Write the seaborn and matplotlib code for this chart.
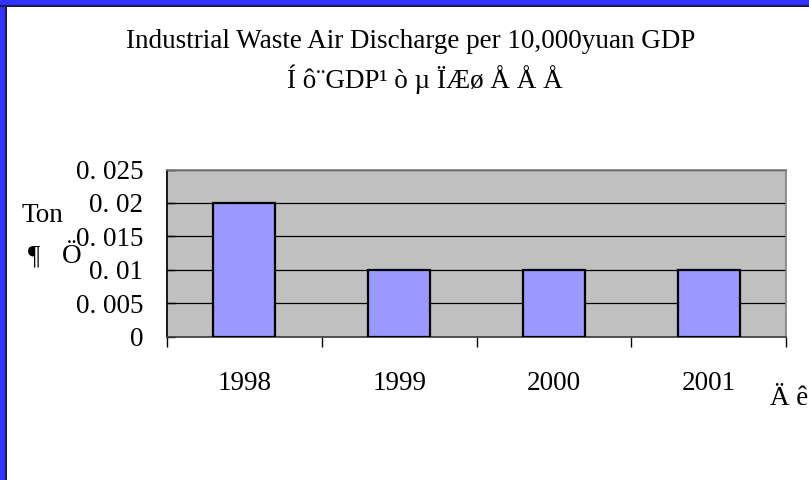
import matplotlib
matplotlib.use("Agg")
import matplotlib.pyplot as plt
import seaborn as sns
import pandas as pd

# Data
years = ["1998", "1999", "2000", "2001"]
discharge = [0.02, 0.01, 0.01, 0.01]
y_ticks = [0, 0.005, 0.01, 0.015, 0.02, 0.025]
y_tick_labels = ["0", "0. 005", "0. 01", "0. 015", "0. 02", "0. 025"]

title_line1 = "Industrial Waste Air Discharge per 10,000yuan GDP"
title_line2 = "Í ô¨GDP¹ ò µ ÏÆø Å Å Å"
ylabel_lines = ["Ton", "¶", "Ö"]
xlabel = "Ä ê"

sns.set_theme(style="white")
plt.rcParams["font.family"] = ["Liberation Serif", "DejaVu Serif"]
plt.rcParams["text.color"] = "black"

W, H = 809, 480
FS = 19.5

df = pd.DataFrame({"year": years, "discharge": discharge})

fig = plt.figure(figsize=(W / 100, H / 100), dpi=100)
fig.patch.set_facecolor("white")

# plot area in pixel coords
left, right, top, bottom = 167, 786, 169.5, 336.5
ax = fig.add_axes([left / W, 1 - bottom / H, (right - left) / W, (bottom - top) / H])
ax.set_facecolor("#c0c0c0")

sns.barplot(data=df, x="year", y="discharge", color="#9999ff", width=0.4,
            edgecolor="black", linewidth=1.6, saturation=1, ax=ax, zorder=3)

ax.set_xlim(-0.5, len(years) - 0.5)
ax.set_ylim(0, 0.025)

# gridlines
ax.set_yticks(y_ticks)
ax.set_yticklabels(y_tick_labels, fontsize=FS)
ax.yaxis.grid(True, color="black", linewidth=0.9)
ax.set_axisbelow(True)
ax.tick_params(axis="y", direction="in", length=6, width=1, color="black",
               labelcolor="black", pad=17, left=True)

# category boundary ticks, labels centred on bars
ax.set_xticks([i - 0.5 for i in range(len(years) + 1)])
ax.set_xticklabels([])
ax.set_xticks(range(len(years)), minor=True)
ax.set_xticklabels(years, minor=True, fontsize=FS)
ax.tick_params(axis="x", which="major", direction="out", length=7, width=1, color="black", bottom=True)
ax.tick_params(axis="x", which="minor", length=0, pad=25, labelcolor="black")

ax.set_xlabel("")
ax.set_ylabel("")

for side in ["top", "right"]:
    ax.spines[side].set_color("#808080")
    ax.spines[side].set_linewidth(1.2)
ax.spines["left"].set_color("black")
ax.spines["bottom"].set_color("#404040")
for side in ax.spines:
    ax.spines[side].set_visible(True)

# titles and axis labels placed as in the original
fig.text(411 / W, 1 - 48 / H, title_line1, ha="center", va="baseline", fontsize=FS)
fig.text(287 / W, 1 - 88 / H, title_line2, ha="left", va="baseline", fontsize=FS)
fig.text(22 / W, 1 - 222 / H, ylabel_lines[0], ha="left", va="baseline", fontsize=FS)
fig.text(28 / W, 1 - 263 / H, ylabel_lines[1], ha="left", va="baseline", fontsize=FS)
fig.text(62 / W, 1 - 263 / H, ylabel_lines[2], ha="left", va="baseline", fontsize=FS)
fig.text(770 / W, 1 - 405 / H, xlabel, ha="left", va="baseline", fontsize=FS)

# blue frame on top and left edge
fig.add_artist(plt.Rectangle((0, 1 - 5 / H), 1, 5 / H, transform=fig.transFigure,
                             facecolor="#3333ff", edgecolor="none"))
fig.add_artist(plt.Rectangle((0, 0), 5 / W, 1, transform=fig.transFigure,
                             facecolor="#3333ff", edgecolor="none"))
fig.add_artist(plt.Rectangle((0, 1 - 6.5 / H), 1, 1.5 / H, transform=fig.transFigure,
                             facecolor="#1a1a55", edgecolor="none"))
fig.add_artist(plt.Rectangle((5 / W, 0), 1.5 / W, 1 - 5 / H, transform=fig.transFigure,
                             facecolor="#1a1a55", edgecolor="none"))

fig.savefig("out.png", dpi=100)
plt.close(fig)
